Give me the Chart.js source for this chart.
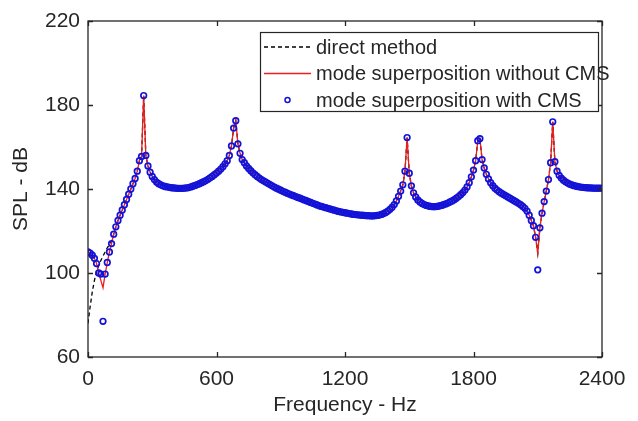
<!DOCTYPE html>
<html>
<head>
<meta charset="utf-8">
<script src="https://cdn.jsdelivr.net/npm/chart.js@4/dist/chart.umd.min.js"></script>
<style>
  html, body { margin: 0; padding: 0; background: #ffffff; }
  #wrap { width: 638px; height: 421px; }
</style>
</head>
<body>
<div id="wrap"><canvas id="c" width="638" height="421"></canvas></div>
<script>
// ---- Data ----
// Frequency axis: 0 .. 2400 Hz, 10 Hz steps
const frequencyHz = [];
for (let f = 0; f <= 2400; f += 10) frequencyHz.push(f);

// mode superposition without CMS (red line), dB
const withoutCMS = [
  110,109.5,108.5,107,104.5,100,96.5,93,99.5,105,
  110,114,118.5,122,125,127.5,130,132.5,135,137.5,
  140,142.5,145,148.5,153.5,155.5,184.5,156,151,148,
  146,144.5,143.3,142.5,142,141.5,141.2,141,140.8,140.6,
  140.5,140.4,140.3,140.3,140.3,140.4,140.5,140.7,141,141.3,
  141.7,142.1,142.5,143,143.5,144,144.6,145.3,146,146.8,
  147.6,148.5,149.5,150.6,152,153.5,156,160.5,169,172.5,
  161.5,157,154,152.5,151,149.8,148.7,147.7,146.8,146,
  145.2,144.5,143.9,143.3,142.7,142.1,141.5,140.9,140.4,139.9,
  139.4,138.9,138.5,138,137.6,137.2,136.8,136.4,136,135.6,
  135.2,134.8,134.4,134,133.6,133.2,132.8,132.4,132,131.7,
  131.4,131.1,130.8,130.5,130.2,129.9,129.6,129.3,129.1,128.9,
  128.7,128.5,128.3,128.1,127.9,127.8,127.7,127.6,127.5,127.4,
  127.3,127.3,127.2,127.2,127.3,127.4,127.6,127.9,128.3,128.8,
  129.5,130.3,131.3,132.6,134.3,136.5,139,142,148.5,164.5,
  147.5,141.5,138.2,136.2,134.8,133.8,133.1,132.6,132.2,131.9,
  131.7,131.6,131.6,131.7,131.9,132.2,132.5,132.9,133.3,133.8,
  134.3,134.9,135.6,136.4,137.3,138.3,139.5,141,143,145.8,
  149,153.5,163,164,154,150,147,144.8,143,141.6,
  140.4,139.5,138.7,138,137.4,136.8,136.2,135.6,135,134.4,
  133.8,133.2,132.5,131.7,130.8,129.5,127.5,125,122.5,117,
  109.5,121.5,128.5,134,139,144.5,152.5,172,153,148.5,
  146.5,145.2,144.2,143.4,142.8,142.3,141.9,141.6,141.3,141.1,
  140.9,140.8,140.7,140.6,140.5,140.5,140.4,140.4,140.4,140.4,
  140.4
];

// mode superposition with CMS (blue circles), dB
const withCMS = [
  110,109.5,108.5,107,104.5,100,99.5,77,99.5,105,
  110,114,118.5,122,125,127.5,130,132.5,135,137.5,
  140,142.5,145,148.5,153.5,155.5,184.5,156,151,148,
  146,144.5,143.3,142.5,142,141.5,141.2,141,140.8,140.6,
  140.5,140.4,140.3,140.3,140.3,140.4,140.5,140.7,141,141.3,
  141.7,142.1,142.5,143,143.5,144,144.6,145.3,146,146.8,
  147.6,148.5,149.5,150.6,152,153.5,156,160.5,169,172.5,
  161.5,157,154,152.5,151,149.8,148.7,147.7,146.8,146,
  145.2,144.5,143.9,143.3,142.7,142.1,141.5,140.9,140.4,139.9,
  139.4,138.9,138.5,138,137.6,137.2,136.8,136.4,136,135.6,
  135.2,134.8,134.4,134,133.6,133.2,132.8,132.4,132,131.7,
  131.4,131.1,130.8,130.5,130.2,129.9,129.6,129.3,129.1,128.9,
  128.7,128.5,128.3,128.1,127.9,127.8,127.7,127.6,127.5,127.4,
  127.3,127.3,127.2,127.2,127.3,127.4,127.6,127.9,128.3,128.8,
  129.5,130.3,131.3,132.6,134.3,136.5,139,142,148.5,164.5,
  147.5,141.5,138.2,136.2,134.8,133.8,133.1,132.6,132.2,131.9,
  131.7,131.6,131.6,131.7,131.9,132.2,132.5,132.9,133.3,133.8,
  134.3,134.9,135.6,136.4,137.3,138.3,139.5,141,143,145.8,
  149,153.5,163,164,154,150,147,144.8,143,141.6,
  140.4,139.5,138.7,138,137.4,136.8,136.2,135.6,135,134.4,
  133.8,133.2,132.5,131.7,130.8,129.5,127.5,125,122.5,117,
  101.5,121.5,128.5,134,139,144.5,152.5,172,153,148.5,
  146.5,145.2,144.2,143.4,142.8,142.3,141.9,141.6,141.3,141.1,
  140.9,140.8,140.7,140.6,140.5,140.5,140.4,140.4,140.4,140.4,
  140.4
];

// direct method (black dashed line), dB
const directMethod = [
  76,84,91,96.5,100.5,103.5,106,108,110,112,
  113.5,115,118.5,122,125,127.5,130,132.5,135,137.5,
  140,142.5,145,148.5,153.5,155.5,184.5,156,151,148,
  146,144.5,143.3,142.5,142,141.5,141.2,141,140.8,140.6,
  140.5,140.4,140.3,140.3,140.3,140.4,140.5,140.7,141,141.3,
  141.7,142.1,142.5,143,143.5,144,144.6,145.3,146,146.8,
  147.6,148.5,149.5,150.6,152,153.5,156,160.5,169,172.5,
  161.5,157,154,152.5,151,149.8,148.7,147.7,146.8,146,
  145.2,144.5,143.9,143.3,142.7,142.1,141.5,140.9,140.4,139.9,
  139.4,138.9,138.5,138,137.6,137.2,136.8,136.4,136,135.6,
  135.2,134.8,134.4,134,133.6,133.2,132.8,132.4,132,131.7,
  131.4,131.1,130.8,130.5,130.2,129.9,129.6,129.3,129.1,128.9,
  128.7,128.5,128.3,128.1,127.9,127.8,127.7,127.6,127.5,127.4,
  127.3,127.3,127.2,127.2,127.3,127.4,127.6,127.9,128.3,128.8,
  129.5,130.3,131.3,132.6,134.3,136.5,139,142,148.5,164.5,
  147.5,141.5,138.2,136.2,134.8,133.8,133.1,132.6,132.2,131.9,
  131.7,131.6,131.6,131.7,131.9,132.2,132.5,132.9,133.3,133.8,
  134.3,134.9,135.6,136.4,137.3,138.3,139.5,141,143,145.8,
  149,153.5,163,164,154,150,147,144.8,143,141.6,
  140.4,139.5,138.7,138,137.4,136.8,136.2,135.6,135,134.4,
  133.8,133.2,132.5,131.7,130.8,129.5,127.5,125,122.5,117,
  109.5,121.5,128.5,134,139,144.5,152.5,172,153,148.5,
  146.5,145.2,144.2,143.4,142.8,142.3,141.9,141.6,141.3,141.1,
  140.9,140.8,140.7,140.6,140.5,140.5,140.4,140.4,140.4,140.4,
  140.4
];

const seriesLabels = ['direct method', 'mode superposition without CMS', 'mode superposition with CMS'];
const xTicks = [0, 600, 1200, 1800, 2400];
const yTicks = [60, 100, 140, 180, 220];
const xTitle = 'Frequency - Hz';
const yTitle = 'SPL - dB';

// ---- Styles ----
const AX = '#262626';
const RED = '#ee1c1c';
const BLUE = '#1212d8';
const FONT = '"Liberation Sans", Arial, Helvetica, sans-serif';

const toXY = (vals) => frequencyHz.map((f, i) => ({ x: f, y: vals[i] }));

// Box + inward ticks (MATLAB style)
const boxPlugin = {
  id: 'boxTicks',
  afterDatasetsDraw(chart) {
    const { ctx, chartArea: a, scales } = chart;
    ctx.save();
    ctx.strokeStyle = AX;
    ctx.lineWidth = 1.3;
    ctx.strokeRect(a.left, a.top, a.right - a.left, a.bottom - a.top);
    const L = 5;
    ctx.beginPath();
    xTicks.forEach(v => {
      const px = Math.round(scales.x.getPixelForValue(v)) + 0.5;
      ctx.moveTo(px, a.bottom); ctx.lineTo(px, a.bottom - L);
      ctx.moveTo(px, a.top); ctx.lineTo(px, a.top + L);
    });
    yTicks.forEach(v => {
      const py = Math.round(scales.y.getPixelForValue(v)) + 0.5;
      ctx.moveTo(a.left, py); ctx.lineTo(a.left + L, py);
      ctx.moveTo(a.right, py); ctx.lineTo(a.right - L, py);
    });
    ctx.stroke();
    ctx.restore();
  }
};

// Legend inside the axes, top-right
const legendPlugin = {
  id: 'insideLegend',
  afterDraw(chart) {
    const { ctx } = chart;
    const bx = 260.5, by = 32.5, bw = 338, bh = 79;
    ctx.save();
    ctx.fillStyle = '#ffffff';
    ctx.fillRect(bx, by, bw, bh);
    ctx.strokeStyle = AX;
    ctx.lineWidth = 1.2;
    ctx.strokeRect(bx, by, bw, bh);
    const rows = [47, 73.5, 100];
    const x0 = 264, x1 = 311, tx = 316;
    ctx.strokeStyle = '#000000';
    ctx.lineWidth = 1.3;
    ctx.setLineDash([4, 3]);
    ctx.beginPath(); ctx.moveTo(x0, rows[0]); ctx.lineTo(x1, rows[0]); ctx.stroke();
    ctx.setLineDash([]);
    ctx.strokeStyle = RED;
    ctx.beginPath(); ctx.moveTo(x0, rows[1]); ctx.lineTo(x1, rows[1]); ctx.stroke();
    ctx.strokeStyle = BLUE;
    ctx.lineWidth = 1.5;
    ctx.beginPath(); ctx.arc((x0 + x1) / 2, rows[2], 2.5, 0, Math.PI * 2); ctx.stroke();
    ctx.fillStyle = AX;
    ctx.font = '20px ' + FONT;
    ctx.textBaseline = 'middle';
    ctx.textAlign = 'left';
    seriesLabels.forEach((t, i) => ctx.fillText(t, tx, rows[i] + 1));
    ctx.restore();
  }
};

new Chart(document.getElementById('c'), {
  type: 'scatter',
  data: {
    datasets: [
      {
        label: seriesLabels[2],
        data: toXY(withCMS),
        showLine: false,
        pointStyle: 'circle',
        pointRadius: 2.8,
        pointBorderWidth: 1.7,
        pointBackgroundColor: 'rgba(0,0,0,0)',
        pointBorderColor: BLUE,
        borderColor: BLUE
      },
      {
        label: seriesLabels[1],
        data: toXY(withoutCMS),
        showLine: true,
        pointRadius: 0,
        borderColor: RED,
        borderWidth: 1.3,
        tension: 0
      },
      {
        label: seriesLabels[0],
        data: toXY(directMethod),
        showLine: true,
        pointRadius: 0,
        borderColor: '#000000',
        borderWidth: 1.3,
        borderDash: [4, 3],
        tension: 0
      }
    ]
  },
  options: {
    responsive: false,
    animation: false,
    devicePixelRatio: 1,
    layout: { padding: { top: 21, right: 36, left: 0, bottom: 0 } },
    plugins: {
      legend: { display: false },
      tooltip: { enabled: false }
    },
    scales: {
      x: {
        type: 'linear',
        min: 0, max: 2400,
        afterBuildTicks: (s) => { s.ticks = xTicks.map(v => ({ value: v })); },
        afterFit: (s) => { s.height = 64; },
        grid: { display: false, drawTicks: false },
        border: { display: false },
        ticks: { color: AX, font: { family: FONT, size: 21 }, padding: 10, maxRotation: 0, autoSkip: false, callback: (v) => String(v) },
        title: { display: true, text: xTitle, color: AX, font: { family: FONT, size: 21 }, padding: 3 }
      },
      y: {
        type: 'linear',
        min: 60, max: 220,
        afterBuildTicks: (s) => { s.ticks = yTicks.map(v => ({ value: v })); },
        afterFit: (s) => { s.width = 88; },
        grid: { display: false, drawTicks: false },
        border: { display: false },
        ticks: { color: AX, font: { family: FONT, size: 21 }, padding: 8, autoSkip: false, callback: (v) => String(v) },
        title: { display: true, text: yTitle, color: AX, font: { family: FONT, size: 21 }, padding: 9 }
      }
    }
  },
  plugins: [boxPlugin, legendPlugin]
});
</script>
</body>
</html>
